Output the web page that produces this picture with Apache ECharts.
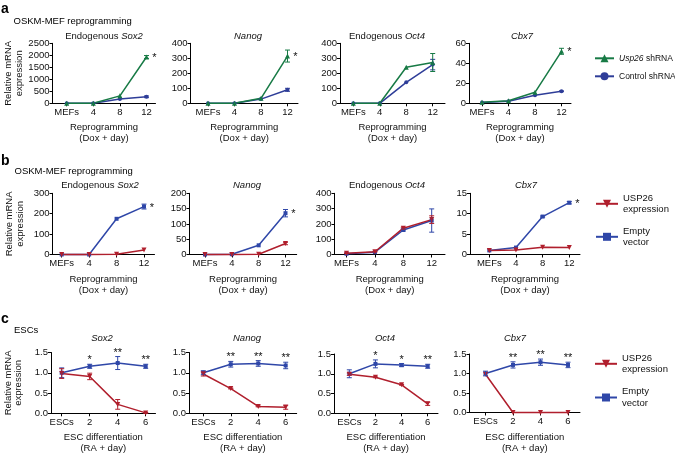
<!DOCTYPE html>
<html><head><meta charset="utf-8">
<script src="https://cdn.jsdelivr.net/npm/echarts@6/dist/echarts.min.js"></script>
<style>html,body{margin:0;padding:0;background:#fff}#c{width:675px;height:455px}</style>
</head><body><div id="c"></div>
<script>
const FONT = "'Liberation Sans', Arial, Helvetica, sans-serif";

// ---------------- data ----------------
const reprogDays = ['MEFs', '4', '8', '12'];
const escDays = ['ESCs', '2', '4', '6'];

// a: OSKM-MEF reprogramming (Usp26 shRNA vs Control shRNA)
const aSox2Ticks = [0, 500, 1000, 1500, 2000, 2500];
const aSox2Usp26 = [0, 0, 310, 1930];
const aSox2Usp26Err = [0, 0, 0, 60];
const aSox2Ctrl = [0, 0, 175, 270];
const aSox2CtrlErr = [0, 0, 0, 35];
const aSox2Stars = ['', '', '', '*'];

const aNanogTicks = [0, 100, 200, 300, 400];
const aNanogUsp26 = [0, 0, 33, 315];
const aNanogUsp26Err = [0, 0, 0, 40];
const aNanogCtrl = [0, 0, 28, 90];
const aNanogCtrlErr = [0, 0, 0, 10];
const aNanogStars = ['', '', '', '*'];

const aOct4Ticks = [0, 100, 200, 300, 400];
const aOct4Usp26 = [0, 0, 240, 272];
const aOct4Usp26Err = [0, 0, 0, 60];
const aOct4Ctrl = [0, 0, 140, 258];
const aOct4CtrlErr = [0, 0, 0, 35];
const aOct4Stars = ['', '', '', ''];

const aCbx7Ticks = [0, 20, 40, 60];
const aCbx7Usp26 = [1, 2.5, 11, 52];
const aCbx7Usp26Err = [0, 0, 0, 3];
const aCbx7Ctrl = [0.8, 2, 8, 12];
const aCbx7CtrlErr = [0, 0, 0, 0.4];
const aCbx7Stars = ['', '', '', '*'];

// b: OSKM-MEF reprogramming (USP26 expression vs Empty vector)
const bSox2Ticks = [0, 100, 200, 300];
const bSox2Usp26 = [0, 0, 1, 22];
const bSox2Usp26Err = [0, 0, 0, 0];
const bSox2Empty = [0, 0, 175, 235];
const bSox2EmptyErr = [0, 0, 0, 12];
const bSox2Stars = ['', '', '', '*'];

const bNanogTicks = [0, 50, 100, 150, 200];
const bNanogUsp26 = [0, 0, 1, 36];
const bNanogUsp26Err = [0, 0, 0, 4];
const bNanogEmpty = [0, 1, 30, 135];
const bNanogEmptyErr = [0, 0, 0, 12];
const bNanogStars = ['', '', '', '*'];

const bOct4Ticks = [0, 100, 200, 300, 400];
const bOct4Usp26 = [8, 18, 172, 228];
const bOct4Usp26Err = [2, 2, 6, 25];
const bOct4Empty = [5, 15, 160, 222];
const bOct4EmptyErr = [0, 0, 6, 76];
const bOct4Stars = ['', '', '', ''];

const bCbx7Ticks = [0, 5, 10, 15];
const bCbx7Usp26 = [1, 1.1, 1.8, 1.7];
const bCbx7Usp26Err = [0, 0, 0, 0];
const bCbx7Empty = [1, 1.7, 9.3, 12.7];
const bCbx7EmptyErr = [0, 0, 0.15, 0.3];
const bCbx7Stars = ['', '', '', '*'];

// c: ESC differentiation
const cTicks = [0, 0.5, 1.0, 1.5];
const cSox2Usp26 = [0.98, 0.91, 0.22, 0.01];
const cSox2Usp26Err = [0.12, 0.08, 0.12, 0.01];
const cSox2Empty = [1.0, 1.16, 1.24, 1.16];
const cSox2EmptyErr = [0.12, 0.05, 0.16, 0.05];
const cSox2Stars = ['', '*', '**', '**'];

const cNanogUsp26 = [0.97, 0.61, 0.17, 0.15];
const cNanogUsp26Err = [0.05, 0.01, 0.01, 0.05];
const cNanogEmpty = [1.0, 1.21, 1.23, 1.18];
const cNanogEmptyErr = [0.05, 0.07, 0.07, 0.08];
const cNanogStars = ['', '**', '**', '**'];

const cOct4Usp26 = [0.99, 0.91, 0.72, 0.24];
const cOct4Usp26Err = [0.03, 0.01, 0.01, 0.04];
const cOct4Empty = [1.0, 1.25, 1.22, 1.19];
const cOct4EmptyErr = [0.1, 0.1, 0.04, 0.05];
const cOct4Stars = ['', '*', '*', '**'];

const cCbx7Usp26 = [0.98, 0, 0, 0];
const cCbx7Usp26Err = [0, 0, 0, 0];
const cCbx7Empty = [1.0, 1.22, 1.29, 1.22];
const cCbx7EmptyErr = [0.06, 0.08, 0.08, 0.07];
const cCbx7Stars = ['', '**', '**', '**'];

// ---------------- styles / layout ----------------
const GREEN = '#177a45', BLUE_A = '#2e3d98', BLUE = '#2f47a8', RED = '#b01f2d';
const DOWN_TRI = 'path://M0,0L10,0L5,9Z';
const N_SH = 'Usp26 shRNA', N_CTRL = 'Control shRNA', N_EXP = 'USP26 expression', N_EMPTY = 'Empty vector';

function shSeries(up, upErr, ctrl, ctrlErr) {
  return [
    { name: N_CTRL, data: ctrl, err: ctrlErr, color: BLUE_A, symbol: 'circle', size: 4 },
    { name: N_SH, data: up, err: upErr, color: GREEN, symbol: 'triangle', size: 5 }
  ];
}
function expSeries(up, upErr, empty, emptyErr) {
  return [
    { name: N_EMPTY, data: empty, err: emptyErr, color: BLUE, symbol: 'rect', size: 4 },
    { name: N_EXP, data: up, err: upErr, color: RED, symbol: DOWN_TRI, size: 5 }
  ];
}
const REPROG_NAME = 'Reprogramming\n(Dox + day)';
const ESC_NAME = 'ESC differentiation\n(RA + day)';

const panels = [
  { title: [['Endogenous ', 'Sox2']], cats: reprogDays, ticks: aSox2Ticks, dec: 0, series: shSeries(aSox2Usp26, aSox2Usp26Err, aSox2Ctrl, aSox2CtrlErr), stars: aSox2Stars, starMode: 'side', starRef: 1, xname: REPROG_NAME },
  { title: [['', 'Nanog']], cats: reprogDays, ticks: aNanogTicks, dec: 0, series: shSeries(aNanogUsp26, aNanogUsp26Err, aNanogCtrl, aNanogCtrlErr), stars: aNanogStars, starMode: 'side', starRef: 1, xname: REPROG_NAME },
  { title: [['Endogenous ', 'Oct4']], cats: reprogDays, ticks: aOct4Ticks, dec: 0, series: shSeries(aOct4Usp26, aOct4Usp26Err, aOct4Ctrl, aOct4CtrlErr), stars: aOct4Stars, starMode: 'side', starRef: 1, xname: REPROG_NAME },
  { title: [['', 'Cbx7']], cats: reprogDays, ticks: aCbx7Ticks, dec: 0, series: shSeries(aCbx7Usp26, aCbx7Usp26Err, aCbx7Ctrl, aCbx7CtrlErr), stars: aCbx7Stars, starMode: 'side', starRef: 1, xname: REPROG_NAME },
  { title: [['Endogenous ', 'Sox2']], cats: reprogDays, ticks: bSox2Ticks, dec: 0, series: expSeries(bSox2Usp26, bSox2Usp26Err, bSox2Empty, bSox2EmptyErr), stars: bSox2Stars, starMode: 'side', starRef: 0, xname: REPROG_NAME },
  { title: [['', 'Nanog']], cats: reprogDays, ticks: bNanogTicks, dec: 0, series: expSeries(bNanogUsp26, bNanogUsp26Err, bNanogEmpty, bNanogEmptyErr), stars: bNanogStars, starMode: 'side', starRef: 0, xname: REPROG_NAME },
  { title: [['Endogenous ', 'Oct4']], cats: reprogDays, ticks: bOct4Ticks, dec: 0, series: expSeries(bOct4Usp26, bOct4Usp26Err, bOct4Empty, bOct4EmptyErr), stars: bOct4Stars, starMode: 'side', starRef: 0, xname: REPROG_NAME },
  { title: [['', 'Cbx7']], cats: reprogDays, ticks: bCbx7Ticks, dec: 0, series: expSeries(bCbx7Usp26, bCbx7Usp26Err, bCbx7Empty, bCbx7EmptyErr), stars: bCbx7Stars, starMode: 'side', starRef: 0, xname: REPROG_NAME },
  { title: [['', 'Sox2']], cats: escDays, ticks: cTicks, dec: 1, series: expSeries(cSox2Usp26, cSox2Usp26Err, cSox2Empty, cSox2EmptyErr), stars: cSox2Stars, starMode: 'top', starRef: 0, xname: ESC_NAME },
  { title: [['', 'Nanog']], cats: escDays, ticks: cTicks, dec: 1, series: expSeries(cNanogUsp26, cNanogUsp26Err, cNanogEmpty, cNanogEmptyErr), stars: cNanogStars, starMode: 'top', starRef: 0, xname: ESC_NAME },
  { title: [['', 'Oct4']], cats: escDays, ticks: cTicks, dec: 1, series: expSeries(cOct4Usp26, cOct4Usp26Err, cOct4Empty, cOct4EmptyErr), stars: cOct4Stars, starMode: 'top', starRef: 0, xname: ESC_NAME },
  { title: [['', 'Cbx7']], cats: escDays, ticks: cTicks, dec: 1, series: expSeries(cCbx7Usp26, cCbx7Usp26Err, cCbx7Empty, cCbx7EmptyErr), stars: cCbx7Stars, starMode: 'top', starRef: 0, xname: ESC_NAME }
];

// layout: [axisLeft, firstPointX, lastPointX, axisRight, plotTop, plotBottom]
const boxes = [
  [52.5, 66.7, 146.5, 155.5, 43.3, 103.3],
  [190.5, 208, 287.5, 298, 43.3, 103.3],
  [340, 353.3, 432.7, 445, 43.3, 103.3],
  [469, 482, 561.5, 571, 43.3, 103.3],
  [52.5, 61.7, 144, 154.5, 193.3, 254.5],
  [189.5, 205, 285.5, 296.7, 193.3, 254.5],
  [334.5, 346.5, 431.7, 445, 193.3, 254.5],
  [470, 489.3, 569.3, 580, 193.3, 254.5],
  [51, 61.7, 145.7, 155.5, 352.5, 413.3],
  [189, 203.3, 285.7, 296.7, 352.5, 413.3],
  [334, 349.3, 427.7, 438, 354, 413.3],
  [469.5, 485.5, 568, 580, 354, 412.5]
];
const titlePos = [
  [104, 36], [248, 36], [387, 36], [522, 36],
  [100, 185], [247, 185], [387, 185], [526, 185],
  [102, 338], [247, 338], [385, 338], [515, 338]
];

// ---------------- build option ----------------
const grid = [], xAxis = [], yAxis = [], series = [], graphic = [];
const txt = { fontFamily: FONT, fontSize: 9.5, color: '#111' };

function errRender(color) {
  return function (params, api) {
    const x = api.value(0), y = api.value(1), e = api.value(2);
    if (!e) return null;
    const hi = api.coord([x, y + e]), lo = api.coord([x, y - e]);
    const c = 2.5, st = { stroke: color, lineWidth: 1 };
    return { type: 'group', children: [
      { type: 'line', shape: { x1: hi[0], y1: hi[1], x2: lo[0], y2: lo[1] }, style: st },
      { type: 'line', shape: { x1: hi[0] - c, y1: hi[1], x2: hi[0] + c, y2: hi[1] }, style: st },
      { type: 'line', shape: { x1: lo[0] - c, y1: lo[1], x2: lo[0] + c, y2: lo[1] }, style: st }
    ] };
  };
}
function starRender(stars, mode) {
  return function (params, api) {
    const k = api.value(0);
    const s = stars[k];
    if (!s) return null;
    const p = api.coord([k, api.value(1)]);
    return { type: 'text', x: p[0] + (mode === 'side' ? 8 : 0), y: p[1] + (mode === 'side' ? 1 : -4),
      style: { text: s, fontSize: 11, fontFamily: FONT, fill: '#111', align: 'center', verticalAlign: 'middle' } };
  };
}

panels.forEach((pn, i) => {
  const [L, fx, lx, R, T, B] = boxes[i];
  const sp = (lx - fx) / 3;
  const firstInRow = i % 4 === 0;
  grid.push({ left: L, top: T, width: R - L, height: B - T, outerBoundsMode: 'none' });
  const idx = pn.cats.map((c, k) => k);
  xAxis.push({
    type: 'value', gridIndex: i, min: -(fx - L) / sp, max: 3 + (R - lx) / sp,
    axisLine: { show: true, onZero: false, lineStyle: { color: '#000', width: 1 } },
    axisTick: { show: true, length: 3, customValues: idx, lineStyle: { color: '#000' } },
    axisLabel: Object.assign({ customValues: idx, margin: 4, formatter: v => pn.cats[Math.round(v)] }, txt),
    splitLine: { show: false },
    name: pn.xname, nameLocation: 'middle', nameGap: 19,
    nameTextStyle: Object.assign({ lineHeight: 11 }, txt)
  });
  const t = pn.ticks;
  yAxis.push(Object.assign({
    type: 'value', gridIndex: i, min: t[0], max: t[t.length - 1], interval: t[1] - t[0],
    axisLine: { show: true, onZero: false, lineStyle: { color: '#000', width: 1 } },
    axisTick: { show: true, length: 3, lineStyle: { color: '#000' } },
    axisLabel: Object.assign({ margin: 3, formatter: v => v.toFixed(pn.dec) }, txt),
    splitLine: { show: false }
  }, firstInRow ? {
    name: 'Relative mRNA\nexpression', nameLocation: 'middle', nameGap: 27,
    nameTextStyle: Object.assign({ lineHeight: 10.5 }, txt)
  } : {}));

  pn.series.forEach(s => {
    series.push({
      type: 'line', name: s.name, xAxisIndex: i, yAxisIndex: i,
      data: s.data.map((v, k) => [k, v]),
      symbol: s.symbol, symbolSize: s.size, showSymbol: true, clip: false,
      lineStyle: { color: s.color, width: 1.5 }, itemStyle: { color: s.color },
      animation: false, z: 3
    });
    series.push({
      type: 'custom', xAxisIndex: i, yAxisIndex: i, renderItem: errRender(s.color),
      data: s.data.map((v, k) => [k, v, s.err[k]]), z: 4, silent: true, animation: false
    });
  });
  // significance marks
  const ref = pn.series[pn.starRef];
  series.push({
    type: 'custom', xAxisIndex: i, yAxisIndex: i, renderItem: starRender(pn.stars, pn.starMode),
    data: ref.data.map((v, k) => [k, pn.starMode === 'side' ? v : v + ref.err[k]]),
    z: 5, silent: true, animation: false
  });

  // panel title
  const rich = { n: { fontFamily: FONT, fontSize: 9.5, fill: '#111' }, i: { fontFamily: FONT, fontSize: 9.5, fontStyle: 'italic', fill: '#111' } };
  const parts = pn.title[0];
  graphic.push({ type: 'text', x: titlePos[i][0], y: titlePos[i][1], silent: true,
    style: { text: (parts[0] ? '{n|' + parts[0] + '}' : '') + '{i|' + parts[1] + '}', rich, align: 'center', verticalAlign: 'middle', fontSize: 9.5, fontFamily: FONT, fill: '#111' } });
});

// panel letters and row headings
const heads = [
  ['a', 1, 9, true], ['OSKM-MEF reprogramming', 13.5, 21.5, false],
  ['b', 1, 161, true], ['OSKM-MEF reprogramming', 14.5, 171, false],
  ['c', 1, 319, true], ['ESCs', 14, 330, false]
];
heads.forEach(h => graphic.push({ type: 'text', x: h[1], y: h[2], silent: true,
  style: { text: h[0], fontFamily: FONT, fontSize: h[3] ? 14 : 9.5, fontWeight: h[3] ? 'bold' : 'normal', fill: '#000', align: 'left', verticalAlign: 'middle' } }));

const legSmall = { fontFamily: FONT, fontSize: 8.5, color: '#111', rich: { i: { fontStyle: 'italic', fontFamily: FONT, fontSize: 8.5, color: '#111' } } };
const legend = [
  { data: [N_SH, N_CTRL], orient: 'vertical', left: 594, top: 53.8, padding: 0, itemWidth: 19, itemHeight: 10, itemGap: 9, selectedMode: false,
    formatter: n => n === N_SH ? '{i|Usp26} shRNA' : n, textStyle: legSmall },
  { data: [N_EXP, N_EMPTY], orient: 'vertical', left: 595, top: 192.3, padding: 0, itemWidth: 22, itemHeight: 10, itemGap: 10, selectedMode: false,
    formatter: n => n === N_EXP ? 'USP26\nexpression' : 'Empty\nvector', textStyle: Object.assign({ lineHeight: 11.5 }, txt) },
  { data: [N_EXP, N_EMPTY], orient: 'vertical', left: 594, top: 352.3, padding: 0, itemWidth: 22, itemHeight: 10, itemGap: 10.7, selectedMode: false,
    formatter: n => n === N_EXP ? 'USP26\nexpression' : 'Empty\nvector', textStyle: Object.assign({ lineHeight: 11.5 }, txt) }
];

const chart = echarts.init(document.getElementById('c'), null, { renderer: 'canvas' });
chart.setOption({ animation: false, backgroundColor: '#fff', grid, xAxis, yAxis, series, graphic, legend });
</script>
</body></html>
